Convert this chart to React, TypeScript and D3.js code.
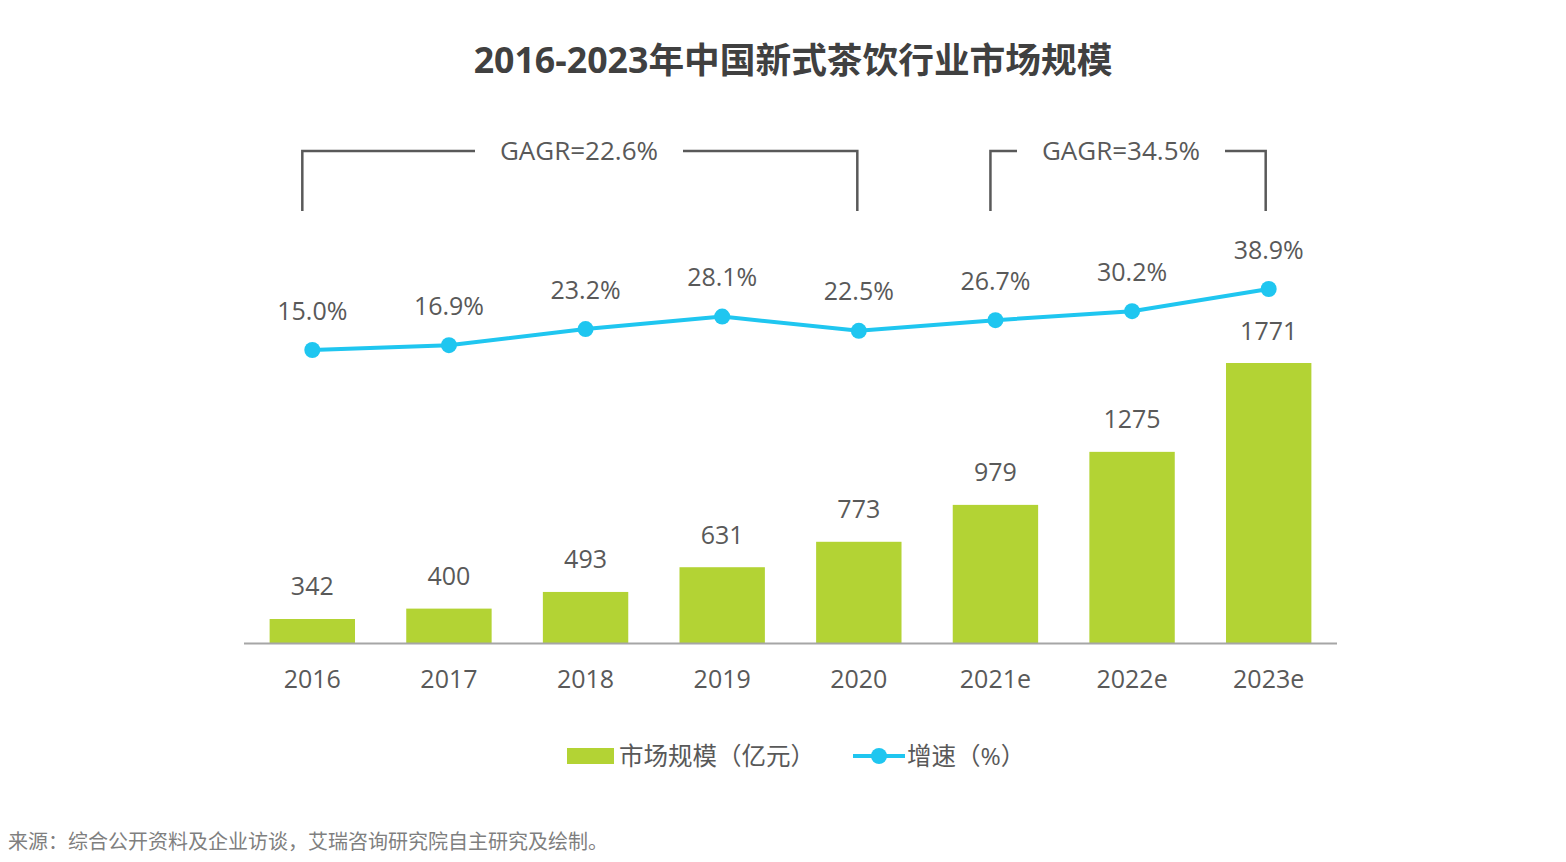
import React, { useEffect } from "react";
import * as d3 from "d3";

const categories = ["2016", "2017", "2018", "2019", "2020", "2021e", "2022e", "2023e"];
const marketSize = [342, 400, 493, 631, 773, 979, 1275, 1771];
const growthRate = [15.0, 16.9, 23.2, 28.1, 22.5, 26.7, 30.2, 38.9];
const cagrLabels = ["GAGR=22.6%", "GAGR=34.5%"];
const cagrSpans: [number, number][] = [[0, 4], [5, 7]];

const W = 1566;
const H = 862;
const FONT = "'Open Sans', 'Noto Sans CJK SC', sans-serif";
const GREEN = "#b3d334";
const CYAN = "#1fc6f0";
const TEXT = "#595959";

export default function App() {
  useEffect(() => {
    document.body.style.margin = "0";
  }, []);

  const x = d3.scalePoint<string>().domain(categories).range([244, 1337]).padding(0.5);
  const step = x.step();
  const barW = step * 0.625;
  const y = d3.scaleLinear().domain([208, 1771]).range([643, 363]);
  const y2 = d3.scaleLinear().domain([15, 38.9]).range([350, 289]);

  const line = d3
    .line<number>()
    .x((_, i) => x(categories[i])!)
    .y((d) => y2(d));

  const brackets = cagrSpans.map(([a, b], k) => {
    const x0 = x(categories[a])! - (k === 0 ? 10 : 5);
    const x1 = x(categories[b])! - (k === 0 ? 1.5 : 3);
    const mid = k === 0 ? 579 : 1121;
    return { x0, x1, mid, label: cagrLabels[k] };
  });

  return (
    <svg width={W} height={H} style={{ display: "block" }} fontFamily={FONT}>
      <rect width={W} height={H} fill="#fff" />
      <text x={793} y={59} textAnchor="middle" dominantBaseline="central" fontSize={35.7} fontWeight="bold" fill="#404040">
        2016-2023年中国新式茶饮行业市场规模
      </text>

      {brackets.map((b, i) => (
        <g key={i}>
          <path
            d={`M${b.x0},211 V151 H${b.mid - 104} M${b.mid + 104},151 H${b.x1} V211`}
            fill="none"
            stroke="#595959"
            strokeWidth={2.5}
          />
          <text x={b.mid} y={150} textAnchor="middle" dominantBaseline="central" fontSize={26} fill={TEXT}>
            {b.label}
          </text>
        </g>
      ))}

      {marketSize.map((v, i) => (
        <g key={categories[i]}>
          <rect x={x(categories[i])! - barW / 2} y={y(v)} width={barW} height={643 - y(v)} fill={GREEN} />
          <text x={x(categories[i])!} y={y(v) - 33.5} textAnchor="middle" dominantBaseline="central" fontSize={25} fill={TEXT}>
            {v}
          </text>
          <text x={x(categories[i])!} y={677.5} textAnchor="middle" dominantBaseline="central" fontSize={25} fill={TEXT}>
            {categories[i]}
          </text>
        </g>
      ))}

      <line x1={244} x2={1337} y1={643.5} y2={643.5} stroke="#a6a6a6" strokeWidth={2} />

      <path d={line(growthRate) || ""} fill="none" stroke={CYAN} strokeWidth={4} />
      {growthRate.map((v, i) => (
        <g key={"g" + i}>
          <circle cx={x(categories[i])!} cy={y2(v)} r={8} fill={CYAN} />
          <text x={x(categories[i])!} y={y2(v) - 40.5} textAnchor="middle" dominantBaseline="central" fontSize={25} fill={TEXT}>
            {v.toFixed(1)}%
          </text>
        </g>
      ))}

      <g>
        <rect x={567} y={748} width={47} height={16} fill={GREEN} />
        <text x={619} y={755} dominantBaseline="central" fontSize={24.5} fill={TEXT}>
          市场规模（亿元）
        </text>
        <line x1={853} x2={905} y1={756} y2={756} stroke={CYAN} strokeWidth={4} />
        <circle cx={879} cy={756} r={8} fill={CYAN} />
        <text x={907} y={755} dominantBaseline="central" fontSize={24.5} fill={TEXT}>
          增速（%）
        </text>
      </g>

      <text x={8} y={841} dominantBaseline="central" fontSize={20} fill="#7f7f7f">
        来源：综合公开资料及企业访谈，艾瑞咨询研究院自主研究及绘制。
      </text>
    </svg>
  );
}
